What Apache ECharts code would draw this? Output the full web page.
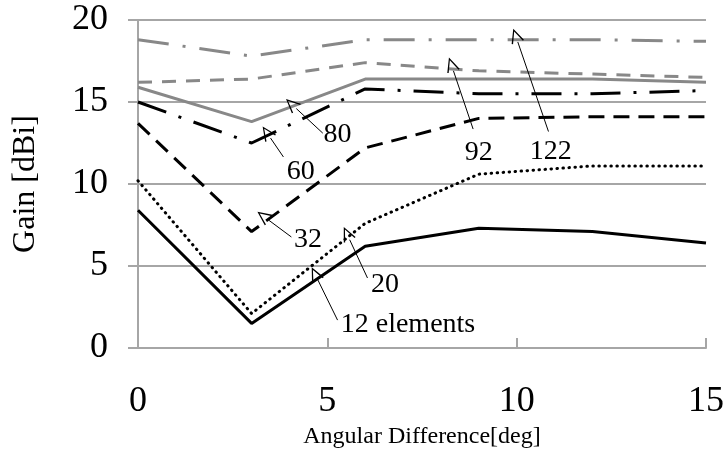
<!DOCTYPE html>
<html>
<head>
<meta charset="utf-8">
<script src="https://cdn.jsdelivr.net/npm/echarts@6/dist/echarts.min.js"></script>
<style>
  html, body { margin: 0; padding: 0; background: #fff; }
  #gain { width: 727px; height: 459px; }
</style>
</head>
<body>
<div id="gain"></div>
<script>
// gain vs angular difference, one line per array size
var angles = [0, 3, 6, 9, 12, 15];
var names = ['12 elements', '20', '32', '60', '80', '92', '122'];

var gain12 = [8.4, 1.5, 6.2, 7.3, 7.1, 6.4];
var gain20 = [10.2, 2.1, 7.6, 10.6, 11.1, 11.1];
var gain32 = [13.7, 7.1, 12.2, 14.0, 14.1, 14.1];
var gain60 = [15.0, 12.5, 15.8, 15.5, 15.5, 15.7];
var gain80 = [15.9, 13.8, 16.4, 16.4, 16.4, 16.2];
var gain92 = [16.2, 16.4, 17.4, 16.9, 16.7, 16.5];
var gain122 = [18.8, 17.8, 18.8, 18.8, 18.8, 18.7];

// callouts: arrow tail -> tip, and text centre (data coords)
var arrowTail = [[5.27, 1.7], [6.06, 4.27], [4.05, 6.77], [3.84, 11.65], [4.88, 13.1], [8.85, 13.35], [10.84, 13.2]];
var arrowTip = [[4.75, 4.15], [5.59, 6.6], [3.45, 7.8], [3.5, 12.8], [4.18, 14.6], [8.33, 16.9], [10.03, 18.66]];
var labelAt = [[7.13, 1.4], [6.52, 3.84], [4.49, 6.59], [4.30, 10.73], [5.27, 12.99], [9.0, 11.9], [10.9, 11.95]];

var values = [gain12, gain20, gain32, gain60, gain80, gain92, gain122];

var BLACK = '#000';
var GREY = '#888';
var serif = 'Liberation Serif';

var styles = [
    {color: BLACK, type: 'solid', cap: 'butt'},
    {color: BLACK, type: [0.5, 5.5], cap: 'round'},
    {color: BLACK, type: [16, 9], cap: 'butt'},
    {color: BLACK, type: [30, 13, 3, 13], cap: 'butt'},
    {color: GREY, type: 'solid', cap: 'butt'},
    {color: GREY, type: [14, 10], cap: 'butt'},
    {color: GREY, type: [31, 14, 3, 14], cap: 'butt'}
];

// open arrow head, tip at the centre of the bounding box
var arrowHead = 'path://M6,0 L12,13 L10.8,13.5 L6,2.6 L1.2,13.5 L0,13 Z M6,26 L6.01,26 L6,26.01 Z';

var series = names.map(function (name, i) {
    return {
        name: name,
        type: 'line',
        symbol: 'none',
        data: angles.map(function (a, j) { return [a, values[i][j]]; }),
        lineStyle: {
            color: styles[i].color,
            width: 3,
            type: styles[i].type,
            cap: styles[i].cap
        },
        markLine: {
            silent: true,
            symbol: ['none', arrowHead],
            symbolSize: [13, 28],
            lineStyle: {color: BLACK, width: 1, type: 'solid'},
            label: {show: false},
            data: [[{coord: arrowTail[i]}, {coord: arrowTip[i]}]]
        },
        markPoint: {
            silent: true,
            symbol: 'circle',
            symbolSize: 0,
            label: {
                show: true,
                position: 'inside',
                formatter: name,
                color: BLACK,
                fontFamily: serif,
                fontSize: 28
            },
            data: [{coord: labelAt[i]}]
        }
    };
});

var myChart = echarts.init(document.getElementById('gain'));

var option = {
    animation: false,
    grid: {left: 138, right: 14, top: 20, bottom: 111},
    xAxis: {
        type: 'value',
        min: 0,
        max: 15,
        interval: 5,
        name: 'Angular Difference[deg]',
        nameLocation: 'middle',
        nameGap: 76,
        nameTextStyle: {fontFamily: serif, fontSize: 24, color: BLACK},
        axisLine: {lineStyle: {color: '#a6a6a6', width: 2}},
        axisTick: {inside: true, length: 10, lineStyle: {color: '#a6a6a6', width: 2}},
        axisLabel: {margin: 36, fontFamily: serif, fontSize: 36, color: BLACK},
        splitLine: {show: false}
    },
    yAxis: {
        type: 'value',
        min: 0,
        max: 20,
        interval: 5,
        name: 'Gain [dBi]',
        nameLocation: 'middle',
        nameGap: 96,
        nameRotate: 90,
        nameTextStyle: {fontFamily: serif, fontSize: 32, color: BLACK},
        axisLine: {show: true, lineStyle: {color: '#a6a6a6', width: 2}},
        axisTick: {show: true, length: 10, lineStyle: {color: '#a6a6a6', width: 2}},
        axisLabel: {margin: 30, fontFamily: serif, fontSize: 36, color: BLACK},
        splitLine: {lineStyle: {color: '#a6a6a6', width: 2}}
    },
    series: series
};

myChart.setOption(option);
</script>
</body>
</html>
